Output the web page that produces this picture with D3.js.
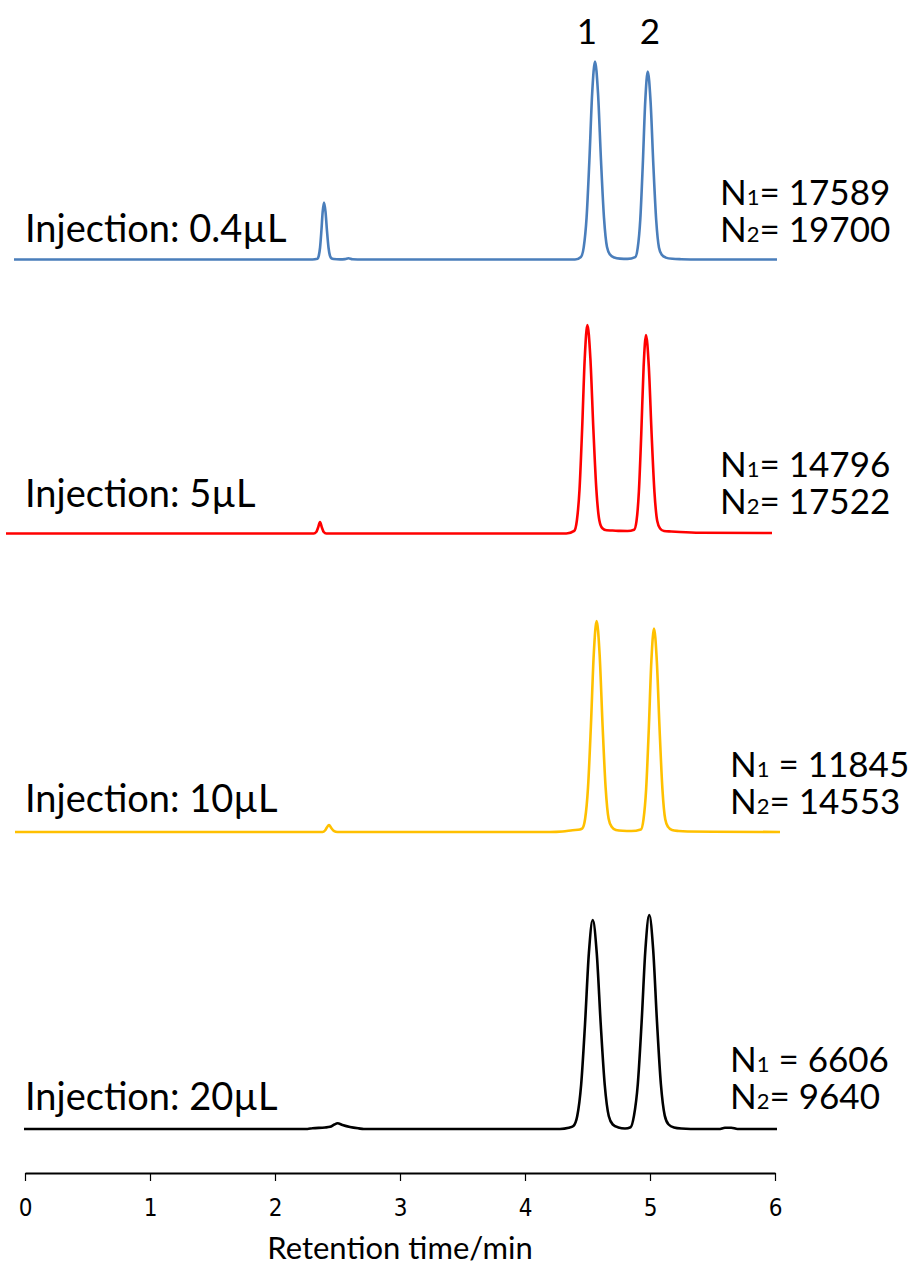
<!DOCTYPE html>
<html>
<head>
<meta charset="utf-8">
<script src="https://cdn.jsdelivr.net/npm/d3@7"></script>
<style>
  html, body { margin: 0; padding: 0; background: #fff; }
  svg { display: block; }
  .lbl { font-family: Lato, "Open Sans", sans-serif; fill: #000; }
  .tick text { font-family: "Liberation Sans Narrow", "DejaVu Sans Condensed", sans-serif; font-size: 24px; }
</style>
</head>
<body>
<script>
// ---- data (retention time in min, signal height in arbitrary units above baseline) ----
const injections = ["Injection: 0.4\u00b5L", "Injection: 5\u00b5L", "Injection: 10\u00b5L", "Injection: 20\u00b5L"];
const plateN1 = ["17589", "14796", "11845", "6606"];
const plateN2 = ["19700", "17522", "14553", "9640"];
const peakLabels = ["1", "2"];
const peakLabelTimes = [4.496, 5.0];
const xTicks = [0, 1, 2, 3, 4, 5, 6];
const xTitle = "Retention time/min";

const trace04 = [
  [-0.088,0],[1.0,0],[2.0,0],[2.30,0],
  [2.3395,0.7],[2.350,3.6],[2.3605,12],[2.371,28.5],[2.3815,47.9],[2.392,57],[2.404,47.9],[2.416,28.5],[2.428,12],[2.440,3.6],[2.452,1.2],[2.469,0.5],
  [2.52,0.1],[2.56,0.4],[2.587,1.3],[2.62,0.3],[2.70,0],[3.5,0],[4.40,0],
  [4.4475,2.6],[4.470,12.4],[4.4925,41.6],[4.515,99],[4.5375,166.5],[4.560,198],[4.584,166.5],[4.608,99],[4.632,41.6],[4.656,12.4],[4.680,5],[4.714,2],[4.76,0.9],[4.82,0.6],
  [4.882,2.4],[4.902,11.8],[4.922,39.5],[4.942,94],[4.962,158.1],[4.982,188],[5.0045,158.1],[5.027,94],[5.0495,39.5],[5.072,11.8],[5.0945,4.7],[5.126,1.9],[5.18,0.7],[5.25,0.3],[5.4,0],[6.016,0]
];
const trace5 = [
  [-0.152,0],[1.0,0],[2.0,0],[2.31,0],[2.33,1.5],[2.345,6],[2.36,11.5],[2.375,6],[2.39,1.5],[2.41,0],[3.5,0],[4.33,0],
  [4.394,2.7],[4.415,13],[4.436,43.8],[4.457,104.3],[4.478,175.3],[4.499,208.5],[4.523,175.3],[4.547,104.3],[4.571,43.8],[4.595,13],[4.619,5.2],[4.653,3.2],[4.70,3],[4.76,2.6],[4.82,2.5],
  [4.873,3.8],[4.892,12.4],[4.911,41.7],[4.930,99.3],[4.949,166.9],[4.968,198.5],[4.9905,166.9],[5.013,99.3],[5.0355,41.7],[5.058,12.4],[5.0805,5],[5.112,2.5],[5.17,2],[5.24,1.5],[5.4,0.8],[5.976,0.5]
];
const trace10 = [
  [-0.08,0],[1.0,0],[2.0,0],[2.38,0],[2.40,1.5],[2.415,4.5],[2.432,7],[2.45,4],[2.47,1.2],[2.50,0],[3.5,0],[4.2,0],[4.30,0.5],[4.38,1.8],[4.44,2.6],
  [4.458,3.5],[4.481,13.2],[4.504,44.3],[4.527,105.5],[4.550,177.5],[4.573,211],[4.597,177.5],[4.621,105.5],[4.645,44.3],[4.669,13.2],[4.693,5.3],[4.727,2.1],[4.78,1.2],[4.85,1],
  [4.927,2.6],[4.948,12.7],[4.969,42.7],[4.990,101.8],[5.011,171.1],[5.032,203.5],[5.0545,171.1],[5.077,101.8],[5.0995,42.7],[5.122,12.7],[5.1445,5.1],[5.176,2],[5.23,1],[5.30,0.5],[5.5,0.3],[6.04,0]
];
const trace20 = [
  [-0.008,0],[1.0,0],[2.0,0],[2.26,0],[2.30,0.8],[2.40,1.5],[2.44,2.2],[2.475,4.5],[2.50,5.7],[2.54,4],[2.60,2],[2.67,0.6],[2.71,0],[3.5,0],[4.28,0],[4.35,1.2],
  [4.387,3],[4.418,13],[4.449,44],[4.480,104.5],[4.511,175.8],[4.542,209],[4.574,175.8],[4.606,104.5],[4.638,44],[4.670,13],[4.702,4.5],[4.747,1.5],[4.80,0.5],
  [4.845,1.8],[4.872,13.4],[4.9025,45],[4.933,107],[4.9635,180],[4.994,214],[5.025,180],[5.056,107],[5.087,45],[5.118,13.4],[5.149,4.5],[5.192,1.5],[5.25,0.5],[5.4,0],[5.55,0],[5.60,1.2],[5.65,1.3],[5.70,0],[6.016,0]
];
const traces = [trace04, trace5, trace10, trace20];
const colors = ["#4A7EBB", "#FF0000", "#FFC000", "#000000"];

// ---- layout ----
const W = 915, H = 1267;
const panelBase = [259.5, 533.5, 832, 1129];
const injDy = [-18, -27, -20, -19];
const n1Dy = [-54.5, -57, -54.7, -56.7];
const n2Dy = [-18, -19.5, -18, -20];
const nX = [720, 720, 730, 730];
const n1Sep = ["= ", "= ", " = ", " = "];

const svg = d3.select("body").append("svg").attr("width", W).attr("height", H);
const x = d3.scaleLinear().domain([0, 6]).range([25, 775]);

traces.forEach((tr, i) => {
  const y = d3.scaleLinear().domain([0, 220]).range([panelBase[i], panelBase[i] - 220]);
  const line = d3.line().x(d => x(d[0])).y(d => y(d[1])).curve(d3.curveMonotoneX);
  svg.append("path").datum(tr).attr("d", line)
    .attr("fill", "none").attr("stroke", colors[i]).attr("stroke-width", 2.6)
    .attr("stroke-linejoin", "round");

  svg.append("text").attr("class", "lbl").attr("x", 25).attr("y", panelBase[i] + injDy[i])
    .attr("font-size", 38).text(injections[i]);

  const t1 = svg.append("text").attr("class", "lbl").attr("x", nX[i]).attr("y", panelBase[i] + n1Dy[i]).attr("font-size", 35);
  t1.append("tspan").text("N");
  t1.append("tspan").attr("font-size", 22).text("1");
  t1.append("tspan").text(n1Sep[i] + plateN1[i]);
  const t2 = svg.append("text").attr("class", "lbl").attr("x", nX[i]).attr("y", panelBase[i] + n2Dy[i]).attr("font-size", 35);
  t2.append("tspan").text("N");
  t2.append("tspan").attr("font-size", 22).text("2");
  t2.append("tspan").text("= " + plateN2[i]);
});

peakLabels.forEach((p, i) => {
  svg.append("text").attr("class", "lbl").attr("x", x(peakLabelTimes[i])).attr("y", 44)
    .attr("text-anchor", "middle").attr("font-size", 35).text(p);
});

const axis = d3.axisBottom(x).tickValues(xTicks).tickFormat(d3.format("d")).tickSize(8).tickSizeOuter(0);
const gx = svg.append("g").attr("transform", "translate(0,1173)").call(axis);
gx.attr("font-size", null);
gx.select(".domain").attr("stroke", "#000").attr("stroke-width", 2);
gx.selectAll(".tick line").attr("stroke", "#000").attr("stroke-width", 1.2);
gx.selectAll(".tick text").style("font-size", "24px").attr("fill", "#000").attr("dy", 0).attr("y", 43);

svg.append("text").attr("class", "lbl").attr("x", x(3)).attr("y", 1259)
  .attr("text-anchor", "middle").attr("font-size", 31).text(xTitle);
</script>
</body>
</html>
